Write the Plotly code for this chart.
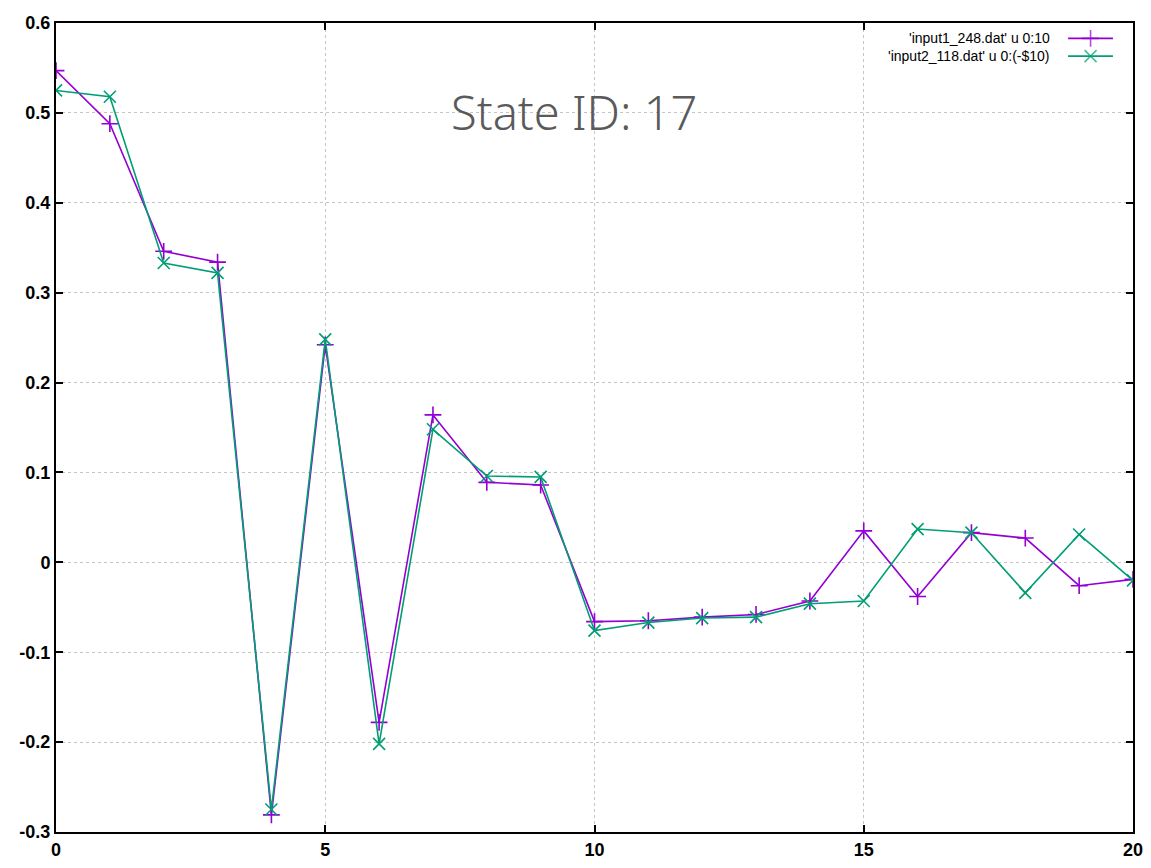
import plotly.graph_objects as go

x_vals = list(range(21))
input1 = [0.547, 0.488, 0.346, 0.334, -0.281, 0.242, -0.178, 0.164, 0.089, 0.086,
          -0.066, -0.065, -0.061, -0.058, -0.043, 0.035, -0.038, 0.033, 0.027, -0.026, -0.019]
input2 = [0.525, 0.518, 0.333, 0.322, -0.275, 0.248, -0.202, 0.148, 0.096, 0.095,
          -0.076, -0.067, -0.062, -0.061, -0.046, -0.043, 0.037, 0.033, -0.034, 0.031, -0.020]
series_names = ["'input1_248.dat' u 0:10", "'input2_118.dat' u 0:(-$10)"]
colors = ["#9400D3", "#009E73"]
symbols = ["cross-thin", "x-thin"]
x_ticks = [0, 5, 10, 15, 20]
y_ticks = [-0.3, -0.2, -0.1, 0, 0.1, 0.2, 0.3, 0.4, 0.5, 0.6]
y_tick_text = ["-0.3", "-0.2", "-0.1", "0", "0.1", "0.2", "0.3", "0.4", "0.5", "0.6"]
title_text = "State ID: 17"

fig = go.Figure()
for ys, name, c, s in zip([input1, input2], series_names, colors, symbols):
    fig.add_trace(go.Scatter(
        x=x_vals, y=ys, name=name, mode="lines+markers",
        line=dict(color=c, width=1.6),
        marker=dict(symbol=s, size=12, line=dict(color=c, width=1.6)),
        showlegend=False,
    ))

# gnuplot-style legend (text right-aligned, sample on the right)
leg_y = [0.981, 0.959]
for i, (name, c, s) in enumerate(zip(series_names, colors, symbols)):
    fig.add_trace(go.Scatter(
        x=[0.9397, 0.9606, 0.9814], y=[leg_y[i]] * 3, mode="lines+markers",
        xaxis="x2", yaxis="y2", showlegend=False, hoverinfo="skip",
        line=dict(color=c, width=1.6),
        marker=dict(symbol=s, size=[0, 12, 0], line=dict(color=c, width=1.6)),
    ))
    fig.add_annotation(
        xref="paper", yref="paper", x=0.9248, y=leg_y[i], text=name,
        showarrow=False, xanchor="right", yanchor="middle",
        font=dict(family="Liberation Sans, Arial", size=14, color="#000"),
    )

fig.add_annotation(
    xref="paper", yref="paper", x=0.481, y=0.890, text=title_text,
    showarrow=False, xanchor="center", yanchor="middle",
    font=dict(family="Noto Sans, Lato", size=47, color="#5a5a5a", weight=300),
)

axis_font = dict(family="Liberation Sans, Arial", size=18, color="#000", weight="bold")
fig.update_layout(
    width=1151, height=868,
    margin=dict(l=48, r=26, t=15, b=44),
    plot_bgcolor="white", paper_bgcolor="white",
    xaxis=dict(range=[0, 20], tickvals=x_ticks, ticks="inside", ticklen=7, tickwidth=1.5,
               tickcolor="#000", mirror="allticks", showline=True, linecolor="#000", linewidth=2,
               showgrid=True, gridcolor="#c4c4c4", griddash="dot", gridwidth=1,
               zeroline=False, tickfont=axis_font, automargin=False),
    yaxis=dict(range=[-0.3, 0.6], tickvals=y_ticks, ticktext=y_tick_text, ticks="inside",
               ticklen=7, tickwidth=1.5, tickcolor="#000", mirror="allticks", showline=True,
               linecolor="#000", linewidth=2, showgrid=True, gridcolor="#c4c4c4", griddash="dot",
               gridwidth=1, zeroline=False, tickfont=axis_font, automargin=False),
    xaxis2=dict(range=[0, 1], overlaying="x", visible=False, domain=[0, 1], automargin=False),
    yaxis2=dict(range=[0, 1], overlaying="y", visible=False, automargin=False),
    showlegend=False,
)

fig.write_html("out.html")
